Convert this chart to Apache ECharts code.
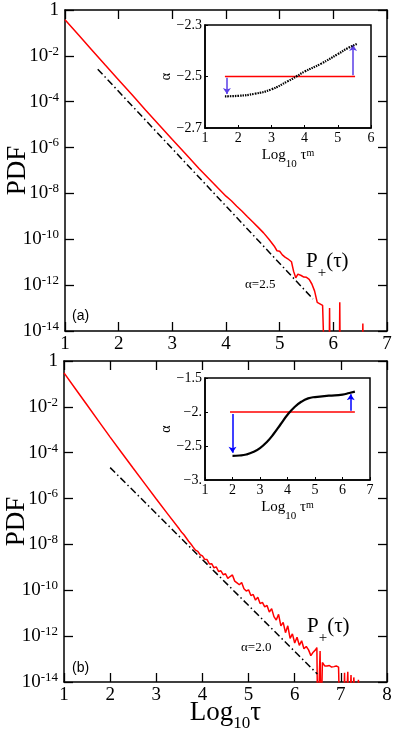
<!DOCTYPE html>
<html>
<head>
<meta charset="utf-8">
<script src="https://cdn.jsdelivr.net/npm/echarts@6/dist/echarts.min.js"></script>
<style>
html, body { margin: 0; padding: 0; background: #fff; }
#chart { width: 395px; height: 731px; }
</style>
</head>
<body>
<div id="chart"></div>
<script>
// ---- data: [log10 tau, log10 PDF] ----
// panel (a)
var pdfA = [[1.00,-0.42],[1.25,-1.08],[1.50,-1.74],[1.75,-2.40],[2.00,-3.05],[2.25,-3.70],[2.50,-4.36],
  [2.75,-5.00],[3.00,-5.65],[3.25,-6.28],[3.50,-6.92],[3.75,-7.52],[4.00,-8.12],[4.10,-8.32],[4.20,-8.56],
  [4.30,-8.78],[4.40,-9.02],[4.50,-9.25],[4.60,-9.48],[4.70,-9.72],[4.80,-10.00],[4.90,-10.30],[4.95,-10.50],
  [5.00,-10.52],[5.05,-10.68],[5.10,-10.78],[5.15,-10.85],[5.22,-10.98],[5.26,-11.40],[5.30,-11.68],
  [5.34,-11.52],[5.40,-11.58],[5.45,-11.65],[5.50,-11.66],[5.55,-11.75],[5.60,-11.95],[5.65,-12.25],
  [5.70,-12.75],[5.80,-12.88],[5.83,-12.88],[5.84,-16],[5.92,-16],[5.93,-13.0],[5.94,-16],[6.11,-16],
  [6.12,-12.75],[6.13,-16],[6.54,-16],[6.55,-13.67],[6.56,-16]];
var fitA = [[1.61,-2.58],[5.62,-12.60]];          // alpha = 2.5
// panel (b)
var pdfB = [[1.00,-0.52],[1.25,-1.22],[1.50,-1.92],[1.75,-2.62],[2.00,-3.32],[2.25,-4.00],[2.50,-4.68],
  [2.75,-5.35],[3.00,-6.02],[3.25,-6.68],[3.50,-7.33],[3.55,-7.47],[3.60,-7.58],[3.65,-7.72],[3.70,-7.86],
  [3.75,-7.98],[3.80,-8.12],[3.85,-8.25],[3.90,-8.30],[3.95,-8.45],[4.00,-8.50],[4.05,-8.65],[4.10,-8.66],
  [4.15,-8.85],[4.20,-8.84],[4.25,-9.02],[4.30,-8.98],[4.35,-9.18],[4.40,-9.15],[4.45,-9.32],[4.50,-9.28],
  [4.55,-9.48],[4.60,-9.40],[4.65,-9.33],[4.70,-9.60],[4.75,-9.68],[4.80,-9.76],[4.85,-9.66],[4.90,-9.93],
  [4.95,-10.03],[5.00,-9.98],[5.05,-10.23],[5.10,-10.18],[5.15,-10.43],[5.20,-10.30],[5.25,-10.58],
  [5.30,-10.53],[5.35,-10.72],[5.40,-10.66],[5.45,-10.95],[5.50,-10.80],[5.55,-11.15],[5.60,-11.30],
  [5.65,-11.05],[5.70,-11.55],[5.75,-11.40],[5.80,-11.85],[5.85,-11.55],[5.90,-12.10],[5.95,-11.90],
  [6.00,-12.30],[6.05,-12.05],[6.10,-12.40],[6.15,-12.20],[6.20,-12.55],[6.25,-12.45],[6.30,-12.60],
  [6.35,-12.85],[6.40,-12.70],[6.45,-12.60],[6.48,-12.50],[6.50,-16],[6.53,-16],[6.55,-12.65],[6.57,-16],
  [6.60,-13.15],[6.65,-13.30],[6.70,-13.30],[6.75,-13.28],[6.80,-13.35],[6.85,-13.33],[6.90,-13.30],
  [6.95,-13.35],[6.98,-16],[7.05,-16],[7.08,-13.60],[7.10,-16],[7.15,-13.55],[7.18,-16],[7.22,-13.70],
  [7.25,-16],[7.28,-13.80],[7.32,-13.85],[7.35,-16],[7.38,-13.90],[7.42,-13.95],[7.45,-16]];
var fitB = [[2.00,-4.65],[6.49,-13.65]];          // alpha = 2.0

// insets: [log10 tau^m, alpha]
var alphaA = [[1.6,-2.577],[2.0,-2.575],[2.5,-2.567],[3.0,-2.550],[3.5,-2.518],[3.75,-2.500],[4.0,-2.481],
  [4.5,-2.450],[5.0,-2.413],[5.3,-2.390],[5.6,-2.372]];
var flatA = [[1.6,-2.5],[5.52,-2.5]];
var arrowsA = [[[1.66,-2.505],[1.66,-2.568]],[[5.46,-2.495],[5.46,-2.378]]];
var alphaB = [[2.0,-2.645],[2.25,-2.64],[2.5,-2.625],[2.75,-2.59],[3.0,-2.53],[3.25,-2.44],[3.5,-2.32],
  [3.75,-2.18],[4.0,-2.04],[4.25,-1.93],[4.5,-1.85],[4.75,-1.80],[5.0,-1.78],[5.5,-1.76],[6.0,-1.745],
  [6.25,-1.72],[6.45,-1.70]];
var flatB = [[1.91,-2.0],[6.45,-2.0]];
var arrowsB = [[[2.0,-2.03],[2.0,-2.6]],[[6.3,-1.98],[6.3,-1.74]]];

// tick positions
var pdfTicks = [1, 1e-2, 1e-4, 1e-6, 1e-8, 1e-10, 1e-12, 1e-14];
var ticksInsetA = [-2.7, -2.5, -2.3];

var serif = 'Liberation Serif';

function toPdf(arr) {
  return arr.map(function (p) { return [p[0], Math.pow(10, p[1])]; });
}

function powLabel(v) {
  var e = Math.round(Math.log10(v));
  return e === 0 ? '{b|1}' : '{b|10}{s|' + e + '}';
}

var powRich = {
  b: { fontFamily: serif, fontSize: 19, lineHeight: 22, color: '#000' },
  s: { fontFamily: serif, fontSize: 13, lineHeight: 13, verticalAlign: 'top', color: '#000' }
};

function mainX(grid, max, pos) {
  return {
    gridIndex: grid, type: 'value', min: 1, max: max, interval: 1, position: pos,
    axisLine: { show: true, lineStyle: { color: '#000', width: 1.5 } },
    axisTick: { show: true, inside: true, length: 9, lineStyle: { color: '#000', width: 1.3 } },
    axisLabel: { show: pos === 'bottom', fontFamily: serif, fontSize: 19, color: '#000', margin: 4 },
    splitLine: { show: false }
  };
}

function mainY(grid, pos) {
  return {
    gridIndex: grid, type: 'log', logBase: 10, min: 1e-14, max: 1, position: pos,
    axisLine: { show: true, lineStyle: { color: '#000', width: 1.5 } },
    axisTick: { show: true, inside: true, length: 9, customValues: pdfTicks, lineStyle: { color: '#000', width: 1.3 } },
    axisLabel: { show: pos === 'left', customValues: pdfTicks, formatter: powLabel, rich: powRich, margin: 6 },
    splitLine: { show: false },
    name: pos === 'left' ? 'PDF' : '', nameLocation: 'middle', nameGap: 34, nameMoveOverlap: false,
    nameTextStyle: { fontFamily: serif, fontSize: 27, color: '#000' }
  };
}

var insetName = {
  rich: {
    a: { fontFamily: serif, fontSize: 15, color: '#000', lineHeight: 18, verticalAlign: 'top' },
    sub: { fontFamily: serif, fontSize: 11, color: '#000', lineHeight: 22, verticalAlign: 'bottom' },
    sup: { fontFamily: serif, fontSize: 10, color: '#000', lineHeight: 10, verticalAlign: 'top' }
  }
};

function insetX(grid, max) {
  return {
    gridIndex: grid, type: 'value', min: 1, max: max, interval: 1,
    axisLine: { show: true, lineStyle: { color: '#000', width: 1.5 } },
    axisTick: { show: true, inside: true, length: 3, lineStyle: { color: '#000' } },
    axisLabel: { fontFamily: serif, fontSize: 14, color: '#000', margin: 3 },
    splitLine: { show: false },
    name: '{a|Log}{sub|10}{a| τ}{sup|m}', nameLocation: 'middle', nameGap: 20, nameMoveOverlap: false,
    nameTextStyle: insetName
  };
}

var pRich = {
  a: { fontFamily: serif, fontSize: 21, fill: '#000', lineHeight: 22, verticalAlign: 'top' },
  sub: { fontFamily: serif, fontSize: 15, fill: '#000', lineHeight: 30, verticalAlign: 'bottom' }
};

var option = {
  animation: false,
  backgroundColor: '#fff',
  grid: [
    { left: 65, top: 10, width: 322, height: 321, outerBoundsMode: 'none' },
    { left: 205, top: 25, width: 166, height: 103, outerBoundsMode: 'none', show: true, backgroundColor: '#fff', borderColor: '#000', borderWidth: 1.5 },
    { left: 64, top: 361, width: 323, height: 321, outerBoundsMode: 'none' },
    { left: 205, top: 378, width: 165, height: 102, outerBoundsMode: 'none', show: true, backgroundColor: '#fff', borderColor: '#000', borderWidth: 1.5 }
  ],
  xAxis: [
    mainX(0, 7, 'bottom'),
    mainX(0, 7, 'top'),
    insetX(1, 6),
    (function () {
      var a = mainX(2, 8, 'bottom');
      a.name = '{a|Log}{sub|10}{a|τ}';
      a.nameLocation = 'middle';
      a.nameGap = 17;
      a.nameMoveOverlap = false;
      a.nameTextStyle = {
        rich: {
          a: { fontFamily: serif, fontSize: 27, color: '#000', lineHeight: 28, verticalAlign: 'top' },
          sub: { fontFamily: serif, fontSize: 17, color: '#000', lineHeight: 33, verticalAlign: 'bottom' }
        }
      };
      return a;
    })(),
    mainX(2, 8, 'top'),
    insetX(3, 7)
  ],
  yAxis: [
    mainY(0, 'left'),
    mainY(0, 'right'),
    {
      gridIndex: 1, type: 'value', min: -2.7, max: -2.3,
      axisLine: { show: true, lineStyle: { color: '#000', width: 1.5 } },
      axisTick: { show: true, inside: true, length: 3, customValues: ticksInsetA, lineStyle: { color: '#000' } },
      axisLabel: {
        fontFamily: serif, fontSize: 14, color: '#000', margin: 3, customValues: ticksInsetA,
        formatter: function (v) { return '\u2212' + Math.abs(v).toFixed(1); }
      },
      splitLine: { show: false },
      name: 'α', nameLocation: 'middle', nameGap: 32, nameMoveOverlap: false,
      nameTextStyle: { fontFamily: serif, fontSize: 14, color: '#000' }
    },
    mainY(2, 'left'),
    mainY(2, 'right'),
    {
      gridIndex: 3, type: 'value', min: -3, max: -1.5, interval: 0.5,
      axisLine: { show: true, lineStyle: { color: '#000', width: 1.5 } },
      axisTick: { show: true, inside: true, length: 3, lineStyle: { color: '#000' } },
      axisLabel: {
        fontFamily: serif, fontSize: 14, color: '#000', margin: 3,
        formatter: function (v) {
          var s = Math.abs(v);
          return '\u2212' + (s % 1 === 0 ? s + '.' : s.toFixed(1));
        }
      },
      splitLine: { show: false },
      name: 'α', nameLocation: 'middle', nameGap: 32, nameMoveOverlap: false,
      nameTextStyle: { fontFamily: serif, fontSize: 14, color: '#000' }
    }
  ],
  series: [
    { type: 'line', xAxisIndex: 0, yAxisIndex: 0, data: toPdf(pdfA), showSymbol: false, clip: true,
      lineStyle: { color: '#ff0000', width: 1.5 } },
    { type: 'line', xAxisIndex: 0, yAxisIndex: 0, data: toPdf(fitA), showSymbol: false,
      lineStyle: { color: '#000', width: 1.5, type: [7, 3, 1.5, 3] } },
    { type: 'line', xAxisIndex: 3, yAxisIndex: 3, data: toPdf(pdfB), showSymbol: false, clip: true,
      lineStyle: { color: '#ff0000', width: 1.5 } },
    { type: 'line', xAxisIndex: 3, yAxisIndex: 3, data: toPdf(fitB), showSymbol: false,
      lineStyle: { color: '#000', width: 1.5, type: [7, 3, 1.5, 3] } },

    { type: 'line', xAxisIndex: 2, yAxisIndex: 2, data: flatA, showSymbol: false,
      lineStyle: { color: '#ff0000', width: 1.5 } },
    { type: 'line', xAxisIndex: 2, yAxisIndex: 2, data: alphaA, showSymbol: false, smooth: true,
      lineStyle: { color: '#000', width: 2.2, type: [1.5, 1] } },
    { type: 'lines', coordinateSystem: 'cartesian2d', xAxisIndex: 2, yAxisIndex: 2,
      symbol: ['none', 'arrow'], symbolSize: 6,
      lineStyle: { color: '#5a3ee6', width: 1.5, opacity: 1 },
      data: arrowsA.map(function (c) { return { coords: c }; }) },

    { type: 'line', xAxisIndex: 5, yAxisIndex: 5, data: flatB, showSymbol: false,
      lineStyle: { color: '#ff0000', width: 1.5 } },
    { type: 'line', xAxisIndex: 5, yAxisIndex: 5, data: alphaB, showSymbol: false, smooth: true,
      lineStyle: { color: '#000', width: 2.2 } },
    { type: 'lines', coordinateSystem: 'cartesian2d', xAxisIndex: 5, yAxisIndex: 5,
      symbol: ['none', 'arrow'], symbolSize: 6,
      lineStyle: { color: '#0000ff', width: 1.5, opacity: 1 },
      data: arrowsB.map(function (c) { return { coords: c }; }) }
  ],
  graphic: [
    { type: 'text', left: 72, top: 309, style: { text: '(a)', fontFamily: 'Liberation Sans', fontSize: 14, fill: '#000' } },
    { type: 'text', left: 245, top: 278, style: { text: 'α=2.5', fontFamily: serif, fontSize: 13, fill: '#000' } },
    { type: 'text', left: 306, top: 251, style: { text: '{a|P}{sub|+}{a|(τ)}', rich: pRich } },
    { type: 'text', left: 72, top: 661, style: { text: '(b)', fontFamily: 'Liberation Sans', fontSize: 14, fill: '#000' } },
    { type: 'text', left: 241, top: 641, style: { text: 'α=2.0', fontFamily: serif, fontSize: 13, fill: '#000' } },
    { type: 'text', left: 307, top: 616, style: { text: '{a|P}{sub|+}{a|(τ)}', rich: pRich } }
  ]
};

var myChart = echarts.init(document.getElementById('chart'));
myChart.setOption(option);
</script>
</body>
</html>
